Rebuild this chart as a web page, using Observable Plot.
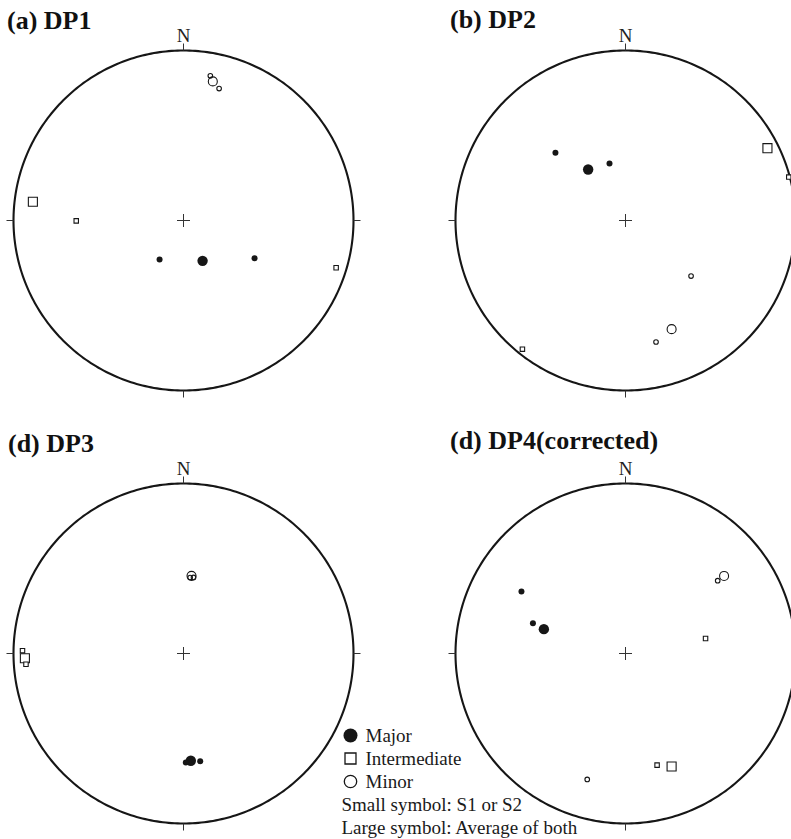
<!DOCTYPE html>
<html>
<head>
<meta charset="utf-8">
<script src="https://cdn.jsdelivr.net/npm/d3@7"></script>
<script src="https://cdn.jsdelivr.net/npm/@observablehq/plot@0.6"></script>
<style>
  html, body { margin: 0; padding: 0; background: #fff; }
  #fig { position: relative; width: 791px; height: 839px; overflow: hidden;
         font-family: "Liberation Serif", "Times New Roman", serif; color: #111; }
  .panel { position: absolute; }
  .panel svg { max-width: none !important; }
  .title { position: absolute; font-weight: bold; font-size: 26px; line-height: 26px; white-space: nowrap; }
</style>
</head>
<body>
<div id="fig"></div>
<script>
// Principal stress axes on lower-hemisphere equal-area nets.
// Each array: rows = Major, Intermediate, Minor; columns = S1, S2, Average (degrees).
const panelTitles = ["(a) DP1", "(b) DP2", "(d) DP3", "(d) DP4(corrected)"];
const principalAxes = ["Major", "Intermediate", "Minor"];
const solutions = ["S1", "S2", "Average"];

const trendDP1  = [[211.6, 118.0, 154.7], [269.8, 107.2, 277.1], [10.5, 15.1, 11.9]];
const plungeDP1 = [[68.1, 50.9, 68.6], [37.0, 6.7, 11.7], [14.5, 20.7, 17.5]];

const trendDP2  = [[314.0, 344.3, 323.8], [75.1, 218.7, 63.0], [130.3, 165.9, 157.0]];
const plungeDP2 = [[42.2, 61.5, 59.5], [0.7, 3.4, 7.0], [48.1, 27.2, 31.2]];

const trendDP3  = [[178.8, 171.2, 176.1], [271.0, 266.1, 268.3], [5.0, 7.5, 5.9]];
const plungeDP3 = [[36.1, 36.0, 36.9], [5.9, 7.9, 7.4], [53.0, 52.8, 52.1]];

const trendDP4  = [[300.8, 288.1, 286.6], [79.4, 164.2, 157.8], [51.7, 196.9, 51.8]];
const plungeDP4 = [[29.5, 42.2, 48.5], [50.4, 32.3, 29.0], [31.5, 23.6, 27.1]];

const cardinalTrends = [0, 90, 180, 270];
const northLabel = "N";
const legendKeys = ["Major", "Intermediate", "Minor"];
const legendNotes = ["Small symbol: S1 or S2", "Large symbol: Average of both"];

// ---- layout ----
const R = 170;              // net radius in px
const tickLen = 7;          // cardinal tick length in px
const crossHalf = 6.5;      // centre cross half-length in px
const centres = [[183, 220], [625, 220], [183, 653], [625, 653]];
const titlePos = [[7, 7.5], [450, 7.2], [8, 431], [450, 427.5]];
const ink = "#161616";
const serif = '"Liberation Serif", "Times New Roman", serif';

const rad = Math.PI / 180;
// Schmidt (equal-area) projection, unit primitive circle, north up.
function project(trend, plunge) {
  const r = Math.SQRT2 * Math.sin((90 - plunge) / 2 * rad);
  return [r * Math.sin(trend * rad), r * Math.cos(trend * rad)];
}

function records(trends, plunges) {
  const out = [];
  principalAxes.forEach((axis, i) =>
    solutions.forEach((solution, j) =>
      out.push({axis, solution, trend: trends[i][j], plunge: plunges[i][j]})));
  return out;
}

const panels = [
  records(trendDP1, plungeDP1),
  records(trendDP2, plungeDP2),
  records(trendDP3, plungeDP3),
  records(trendDP4, plungeDP4)
];

const px = d => project(d.trend, d.plunge)[0];
const py = d => project(d.trend, d.plunge)[1];
const grow = 1 + tickLen / R;
const c = crossHalf / R;

function net(recs) {
  const pick = (axis, avg) => recs.filter(d => d.axis === axis && (d.solution === "Average") === avg);
  const primitive = d3.range(0, 361, 1);
  return Plot.plot({
    width: 2 * (R + 30), height: 2 * (R + 40),
    marginLeft: 30, marginRight: 30, marginTop: 40, marginBottom: 40,
    x: {domain: [-1, 1], axis: null},
    y: {domain: [-1, 1], axis: null},
    style: {background: "transparent", overflow: "visible", fontFamily: serif, maxWidth: "none"},
    marks: [
      // primitive circle (plunge 0)
      Plot.line(primitive, {x: t => project(t, 0)[0], y: t => project(t, 0)[1],
        stroke: ink, strokeWidth: 2.1}),
      // cardinal ticks
      Plot.link(cardinalTrends, {
        x1: t => project(t, 0)[0], y1: t => project(t, 0)[1],
        x2: t => project(t, 0)[0] * grow, y2: t => project(t, 0)[1] * grow,
        stroke: "#333", strokeWidth: 1}),
      // centre cross
      Plot.link([0, 90], {
        x1: t => -c * Math.sin(t * rad), y1: t => -c * Math.cos(t * rad),
        x2: t => c * Math.sin(t * rad), y2: t => c * Math.cos(t * rad),
        stroke: "#333", strokeWidth: 1}),
      // north label
      Plot.text([northLabel], {x: () => project(0, 0)[0], y: () => project(0, 0)[1],
        text: d => d, dy: -9, lineAnchor: "bottom", fontSize: 19, fill: "#222", fontFamily: serif}),
      // intermediate axes (open squares)
      Plot.dot(pick("Intermediate", true), {x: px, y: py, symbol: "square", r: 5.1,
        fill: "white", stroke: ink, strokeWidth: 1.1}),
      Plot.dot(pick("Intermediate", false), {x: px, y: py, symbol: "square", r: 2.5,
        fill: "white", stroke: ink, strokeWidth: 1.1}),
      // minor axes (open circles)
      Plot.dot(pick("Minor", true), {x: px, y: py, r: 4.5, fill: "none", stroke: ink, strokeWidth: 1.1}),
      Plot.dot(pick("Minor", false), {x: px, y: py, r: 2.3, fill: "none", stroke: ink, strokeWidth: 1.1}),
      // major axes (filled circles)
      Plot.dot(pick("Major", true), {x: px, y: py, r: 5.2, fill: ink, stroke: "none"}),
      Plot.dot(pick("Major", false), {x: px, y: py, r: 3, fill: ink, stroke: "none"})
    ]
  });
}

const fig = document.getElementById("fig");

panels.forEach((recs, i) => {
  const svg = net(recs);
  const holder = document.createElement("div");
  holder.className = "panel";
  holder.style.left = (centres[i][0] - (R + 30)) + "px";
  holder.style.top = (centres[i][1] - (R + 40)) + "px";
  holder.style.width = (2 * (R + 30)) + "px";
  holder.appendChild(svg);
  fig.appendChild(holder);
});

panelTitles.forEach((t, i) => {
  const el = document.createElement("div");
  el.className = "title";
  el.textContent = t;
  el.style.left = titlePos[i][0] + "px";
  el.style.top = titlePos[i][1] + "px";
  fig.appendChild(el);
});

// legend
const legendRows = [...legendKeys, ...legendNotes];
const legend = Plot.plot({
  width: 260, height: 120,
  marginTop: 15, marginBottom: 13, marginLeft: 0, marginRight: 0,
  y: {type: "point", domain: legendRows, padding: 0, axis: null},
  style: {background: "transparent", overflow: "visible", fontFamily: serif, maxWidth: "none"},
  marks: [
    Plot.dot(["Major"], {y: d => d, frameAnchor: "left", dx: 20, r: 7, fill: ink, stroke: "none"}),
    Plot.dot(["Intermediate"], {y: d => d, frameAnchor: "left", dx: 20, symbol: "square", r: 6.2,
      fill: "white", stroke: ink, strokeWidth: 1.3}),
    Plot.dot(["Minor"], {y: d => d, frameAnchor: "left", dx: 20, r: 6.2, fill: "none",
      stroke: ink, strokeWidth: 1.3}),
    Plot.text(legendKeys, {y: d => d, text: d => d, frameAnchor: "left", dx: 35,
      textAnchor: "start", fontSize: 19, fill: "#1a1a1a", fontFamily: serif}),
    Plot.text(legendNotes, {y: d => d, text: d => d, frameAnchor: "left", dx: 11,
      textAnchor: "start", fontSize: 19, fill: "#1a1a1a", fontFamily: serif})
  ]
});
const lh = document.createElement("div");
lh.className = "panel";
lh.style.left = "330px";
lh.style.top = "720px";
lh.style.width = "260px";
lh.appendChild(legend);
fig.appendChild(lh);
</script>
</body>
</html>
